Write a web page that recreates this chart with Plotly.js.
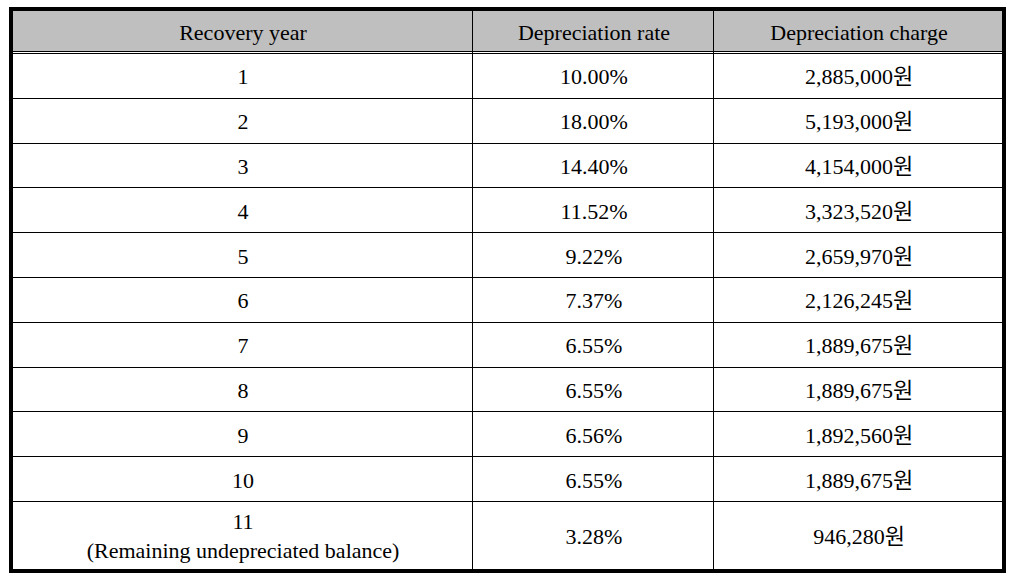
<!DOCTYPE html>
<html>
<head>
<meta charset="utf-8">
<script src="https://cdn.plot.ly/plotly-3.0.1.min.js"></script>
<style>html,body{margin:0;padding:0;background:#fff;}#chart{width:1016px;height:579px;}</style>
</head>
<body>
<div id="chart"></div>
<script>
// ---- data ----
const headers = ["Recovery year", "Depreciation rate", "Depreciation charge"];
const recoveryYears = ["1", "2", "3", "4", "5", "6", "7", "8", "9", "10", "11"];
const lastRowNote = "(Remaining undepreciated balance)";
const depreciationRates = [10.00, 18.00, 14.40, 11.52, 9.22, 7.37, 6.55, 6.55, 6.56, 6.55, 3.28];
const depreciationCharges = [2885000, 5193000, 4154000, 3323520, 2659970, 2126245, 1889675, 1889675, 1892560, 1889675, 946280];

// ---- layout sizes (pixels) ----
const columnWidths = [460, 241, 289];
const headerHeight = 41, separatorHeight = 2, rowHeight = 44.8, lastRowHeight = 68;
const plotW = 989, plotH = 558;

const xEdges = [0];
columnWidths.forEach(w => xEdges.push(xEdges[xEdges.length - 1] + w));
const yEdges = [0, headerHeight, headerHeight + separatorHeight];
recoveryYears.forEach((y, i) => {
  const h = i === recoveryYears.length - 1 ? lastRowHeight : rowHeight;
  yEdges.push(yEdges[yEdges.length - 1] + h);
});

// ---- cell text & fills ----
const lastIdx = recoveryYears.length - 1;
const text = [headers.slice(), ["", "", ""]];
const z = [[1, 1, 1], [0, 0, 0]];
recoveryYears.forEach((y, i) => {
  const yearLabel = i === lastIdx ? y + "<br>" + lastRowNote : y;
  text.push([
    yearLabel,
    depreciationRates[i].toFixed(2) + "%",
    depreciationCharges[i].toLocaleString("en-US") + "원"
  ]);
  z.push([0, 0, 0]);
});

const FONT = "Liberation Serif, Noto Sans CJK KR, serif";

const trace = {
  type: "heatmap",
  x: xEdges,
  y: yEdges,
  z: z,
  text: text,
  texttemplate: "%{text}",
  textfont: {family: FONT, size: 22, color: "#000"},
  colorscale: [[0, "#ffffff"], [1, "#bfbfbf"]],
  zmin: 0, zmax: 1,
  showscale: false,
  xgap: 1, ygap: 1,
  hoverinfo: "skip"
};

const axisCommon = {
  showline: true, mirror: true, linewidth: 4, linecolor: "#000",
  showgrid: false, zeroline: false, showticklabels: false, ticks: "", fixedrange: true
};

const layout = {
  width: 1016,
  height: 579,
  margin: {l: 13, r: 14, t: 11, b: 10},
  paper_bgcolor: "#fff",
  plot_bgcolor: "#000",
  showlegend: false,
  xaxis: Object.assign({range: [0, plotW]}, axisCommon),
  yaxis: Object.assign({range: [plotH, 0]}, axisCommon)
};

Plotly.newPlot("chart", [trace], layout, {displayModeBar: false, staticPlot: true});
</script>
</body>
</html>
